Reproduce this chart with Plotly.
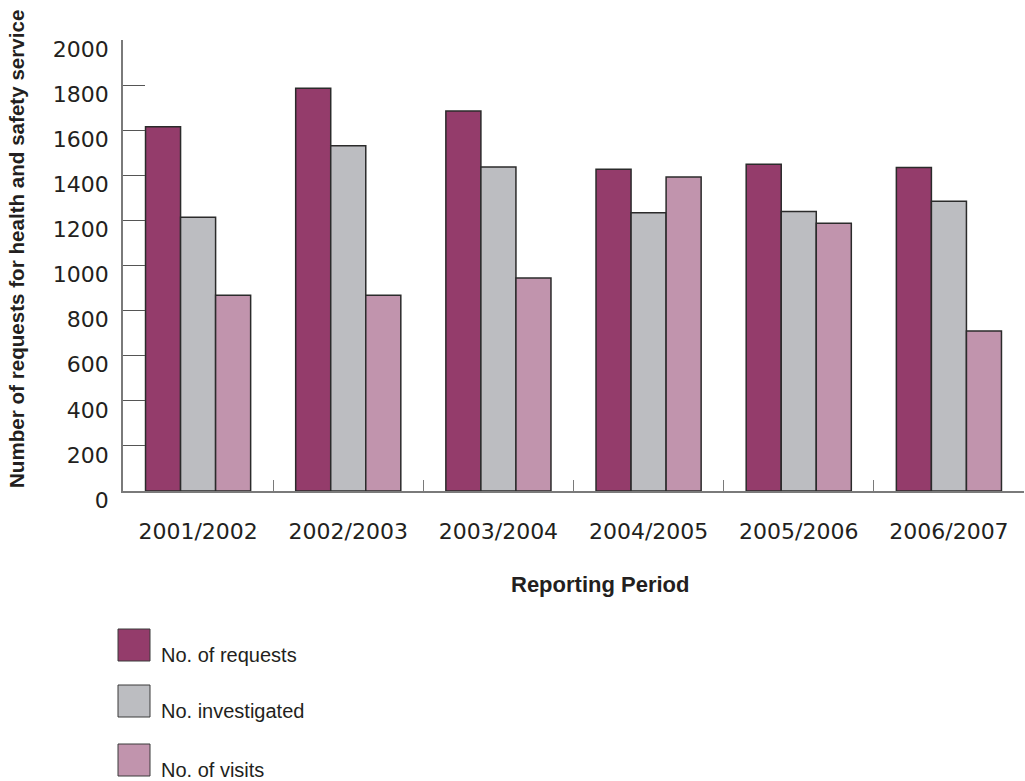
import plotly.graph_objects as go

# Reporting periods and counts for each measure
periods = ["2001/2002", "2002/2003", "2003/2004", "2004/2005", "2005/2006", "2006/2007"]
requests = [1615, 1786, 1685, 1427, 1449, 1435]
investigated = [1214, 1531, 1437, 1234, 1240, 1285]
visits = [868, 868, 945, 1392, 1187, 710]

series_names = ["No. of requests", "No. investigated", "No. of visits"]
series_colors = ["#943C6B", "#BCBDC1", "#C194AD"]
series_values = [requests, investigated, visits]

y_ticks = list(range(0, 2001, 200))

W, H = 1025, 781
L, R, T, B = 123, 1, 40, 290
plot_w = W - L - R
plot_h = H - T - B


def px_x(px):
    return (px - L) / plot_w


def px_y(py):
    return (H - B - py) / plot_h


fig = go.Figure()
for name, color, vals in zip(series_names, series_colors, series_values):
    fig.add_trace(go.Bar(
        x=periods, y=vals, name=name,
        marker=dict(color=color, line=dict(color="#2b2b2b", width=1.5)),
        showlegend=False,
    ))

tick_font = dict(family="DejaVu Sans, Liberation Sans, Arial", size=22, color="#231f20")

fig.update_layout(
    width=W, height=H,
    margin=dict(l=L, r=R, t=T, b=B, autoexpand=False),
    paper_bgcolor="white", plot_bgcolor="white",
    barmode="group", bargap=0.3, bargroupgap=0,
    xaxis=dict(
        type="category", showgrid=False, showline=True, linecolor="#7a7a7a", linewidth=1.5,
        ticks="inside", tickson="boundaries", ticklen=11, tickcolor="#7a7a7a", tickwidth=1,
        tickfont=tick_font, ticklabelstandoff=20,
    ),
    yaxis=dict(
        range=[0, 2000], tickvals=y_ticks, showgrid=False, zeroline=False,
        showline=True, linecolor="#7a7a7a", linewidth=1.5,
        ticks="inside", ticklen=22, tickcolor="#555555", tickwidth=1,
        tickfont=tick_font, ticklabelstandoff=8, ticklabelshift=9,
    ),
)

# Axis titles
fig.add_annotation(
    x=px_x(600), y=px_y(584), xref="paper", yref="paper", showarrow=False,
    text="<b>Reporting Period</b>", xanchor="center", yanchor="middle",
    font=dict(family="Liberation Sans Narrow, Liberation Sans, Arial", size=22, color="#231f20"),
)
fig.add_annotation(
    x=px_x(17), y=px_y(249), xref="paper", yref="paper", showarrow=False,
    text="<b>Number of requests for health and safety service</b>", textangle=-90,
    xanchor="center", yanchor="middle",
    font=dict(family="Liberation Sans, Arial", size=20.6, color="#231f20"),
)

# Legend drawn below the chart as swatches and labels
swatch_tops = [629, 685, 744]
for name, color, top in zip(series_names, series_colors, swatch_tops):
    fig.add_shape(
        type="rect", xref="paper", yref="paper",
        x0=px_x(118), x1=px_x(150), y0=px_y(top), y1=px_y(top + 32),
        fillcolor=color, line=dict(color="#3a3a3a", width=1),
    )
    fig.add_annotation(
        x=px_x(159), y=px_y(top + 26), xref="paper", yref="paper", showarrow=False,
        text=name, xanchor="left", yanchor="middle",
        font=dict(family="Liberation Sans, Arial", size=20, color="#231f20"),
    )

fig.write_html("out.html")
